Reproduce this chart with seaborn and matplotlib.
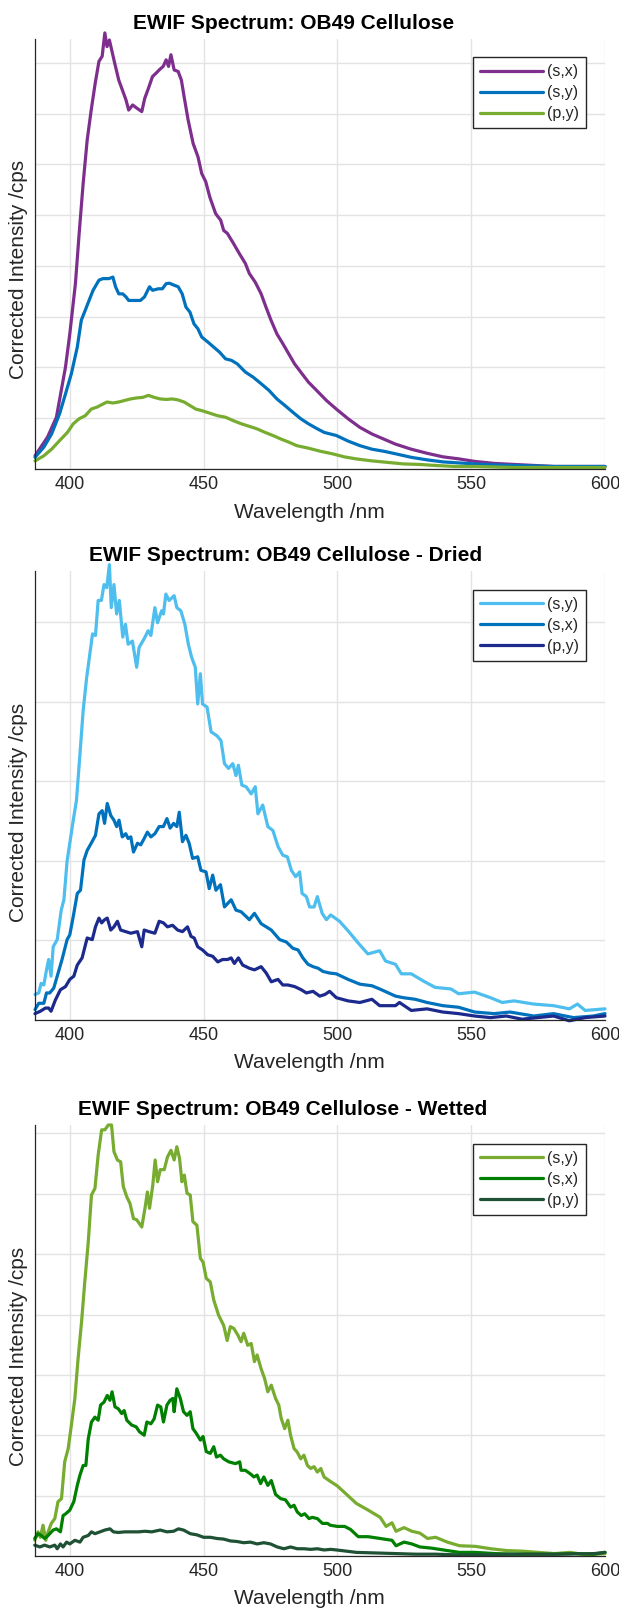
import matplotlib
matplotlib.use('Agg')
import matplotlib.pyplot as plt
import numpy as np
import pandas as pd
import seaborn as sns

# Panel 1: OB49 Cellulose
p1_sx_nm = [387.0, 391.7, 395.0, 398.4, 400.0, 402.1, 403.5, 405.0, 406.5, 408.0, 409.5, 410.9, 412.1, 413.1, 413.9,
            414.8, 416.8, 418.3, 420.1, 421.0, 422.0, 423.5, 425.0, 426.9, 428.0, 429.4, 430.9, 432.3, 433.4, 434.9,
            436.0, 436.9, 437.8, 439.0, 440.5, 441.7, 442.7, 444.2, 446.1, 447.9, 449.3, 450.8, 452.3, 454.5, 456.4,
            457.5, 458.9, 461.2, 463.4, 465.6, 467.1, 469.3, 471.5, 473.3, 475.2, 477.4, 479.6, 481.8, 484.0, 486.3,
            489.2, 492.2, 495.9, 499.6, 504.0, 508.4, 512.9, 517.3, 521.7, 527.6, 533.5, 539.4, 545.3, 551.3, 558.6,
            566.0, 573.4, 580.8, 589.7, 600.0]
p1_sx = [0.26, 0.63, 1.02, 2.01, 2.66, 3.65, 4.64, 5.63, 6.48, 7.07, 7.60, 8.03, 8.13, 8.59, 8.32,
         8.45, 7.99, 7.66, 7.40, 7.27, 7.07, 7.17, 7.11, 7.04, 7.30, 7.50, 7.73, 7.80, 7.86, 7.93,
         8.06, 7.93, 8.16, 7.86, 7.83, 7.66, 7.34, 6.88, 6.41, 6.15, 5.82, 5.66, 5.36, 5.03, 4.90,
         4.70, 4.64, 4.44, 4.24, 4.05, 3.85, 3.68, 3.45, 3.19, 2.93, 2.66, 2.47, 2.27, 2.07, 1.91,
         1.71, 1.55, 1.35, 1.18, 0.99, 0.82, 0.69, 0.59, 0.49, 0.39, 0.31, 0.24, 0.20, 0.15, 0.11,
         0.09, 0.07, 0.05, 0.05, 0.05]
p1_sy_nm = [387.0, 390.3, 393.2, 396.2, 398.4, 400.6, 402.8, 404.3, 405.8, 407.2, 408.7, 410.9, 412.4, 414.6, 416.1,
            417.1, 418.3, 419.8, 421.0, 422.0, 424.2, 426.4, 427.9, 429.8, 430.9, 433.1, 434.6, 436.0, 437.2, 439.0,
            440.5, 442.0, 443.4, 444.9, 446.4, 447.9, 449.3, 451.6, 453.8, 456.0, 458.2, 460.4, 462.6, 465.6, 468.5,
            471.5, 474.4, 477.4, 480.4, 483.3, 486.3, 489.2, 492.2, 495.1, 499.6, 504.0, 508.4, 512.9, 517.3, 521.7,
            527.6, 533.5, 539.4, 545.3, 551.3, 558.6, 566.0, 580.8, 600.0]
p1_sy = [0.23, 0.43, 0.69, 1.09, 1.48, 1.88, 2.40, 2.93, 3.13, 3.32, 3.52, 3.72, 3.75, 3.75, 3.78,
         3.59, 3.45, 3.45, 3.39, 3.32, 3.32, 3.32, 3.39, 3.59, 3.52, 3.55, 3.55, 3.65, 3.66, 3.62,
         3.59, 3.45, 3.19, 3.09, 2.86, 2.76, 2.60, 2.50, 2.40, 2.30, 2.17, 2.14, 2.07, 1.91, 1.81,
         1.68, 1.55, 1.38, 1.25, 1.12, 0.99, 0.89, 0.80, 0.72, 0.66, 0.55, 0.46, 0.39, 0.35, 0.30,
         0.23, 0.18, 0.14, 0.12, 0.10, 0.08, 0.07, 0.05, 0.05]
p1_py_nm = [387.0, 390.3, 393.2, 396.2, 399.1, 401.3, 403.5, 405.8, 408.0, 410.2, 412.4, 413.9, 416.1, 418.3, 420.5,
            422.7, 425.0, 427.2, 429.4, 431.6, 433.8, 436.0, 438.3, 440.5, 442.7, 444.9, 447.1, 449.3, 452.3, 455.2,
            458.2, 461.2, 464.1, 467.1, 470.0, 473.0, 475.9, 478.9, 481.8, 484.8, 489.2, 493.6, 498.1, 502.5, 506.9,
            512.9, 518.8, 524.7, 530.6, 536.5, 543.9, 551.3, 566.0, 580.8, 600.0]
p1_py = [0.16, 0.26, 0.39, 0.56, 0.72, 0.89, 0.99, 1.05, 1.18, 1.22, 1.28, 1.32, 1.30, 1.32, 1.35,
         1.38, 1.40, 1.41, 1.45, 1.41, 1.38, 1.37, 1.38, 1.36, 1.32, 1.25, 1.18, 1.15, 1.10, 1.05,
         1.02, 0.95, 0.89, 0.84, 0.79, 0.72, 0.66, 0.59, 0.53, 0.46, 0.41, 0.35, 0.30, 0.24, 0.20,
         0.16, 0.13, 0.10, 0.09, 0.07, 0.05, 0.05, 0.03, 0.03, 0.03]

# Panel 2: Dried
p2_sy_nm = [387.0, 388.4, 389.3, 390.3, 391.3, 392.1, 393.0, 393.8, 395.3, 396.8, 397.8, 399.0, 400.0, 401.3, 402.5,
            403.8, 405.0, 406.3, 407.5, 408.5, 409.6, 410.6, 411.8, 412.8, 413.8, 414.8, 415.5, 416.5, 417.5, 418.5,
            419.8, 420.8, 421.8, 423.4, 425.0, 425.9, 427.8, 429.3, 430.3, 431.8, 432.8, 434.3, 435.0, 435.9, 437.1,
            439.0, 440.0, 441.5, 443.0, 444.3, 445.5, 446.9, 447.8, 448.8, 449.6, 451.3, 452.8, 455.0, 456.5, 457.8,
            459.3, 460.9, 462.1, 463.0, 464.3, 465.9, 467.8, 469.3, 470.3, 472.1, 474.0, 475.9, 477.8, 479.6, 481.3,
            482.8, 484.4, 485.9, 486.8, 488.4, 489.6, 491.3, 492.5, 494.3, 495.9, 497.5, 500.8, 504.0, 507.7, 511.4,
            515.8, 518.0, 521.7, 523.9, 527.6, 532.1, 536.5, 542.4, 545.3, 551.3, 557.2, 561.6, 566.0, 573.4, 580.8,
            586.7, 589.7, 592.6, 600.0]
p2_sy = [0.32, 0.34, 0.46, 0.44, 0.63, 0.76, 0.55, 0.92, 1.01, 1.38, 1.51, 2.00, 2.22, 2.51, 2.76,
         3.34, 3.89, 4.30, 4.60, 4.85, 4.83, 5.27, 5.27, 5.47, 5.43, 5.72, 5.18, 5.47, 5.10, 5.27,
         4.81, 4.97, 4.72, 4.76, 4.43, 4.68, 4.79, 4.89, 4.83, 5.18, 4.99, 5.14, 5.10, 5.35, 5.27,
         5.33, 5.18, 5.14, 4.97, 4.72, 4.56, 4.43, 3.97, 4.35, 3.97, 3.93, 3.62, 3.57, 3.51, 3.22,
         3.16, 3.22, 3.07, 3.20, 2.95, 2.93, 2.84, 2.93, 2.59, 2.70, 2.43, 2.38, 2.18, 2.07, 2.05,
         1.88, 1.80, 1.86, 1.59, 1.55, 1.42, 1.42, 1.55, 1.34, 1.26, 1.32, 1.24, 1.12, 0.97, 0.83,
         0.87, 0.74, 0.70, 0.58, 0.58, 0.49, 0.41, 0.39, 0.33, 0.35, 0.28, 0.22, 0.24, 0.20, 0.18,
         0.14, 0.20, 0.12, 0.14]
p2_sx_nm = [387.0, 388.4, 390.3, 391.3, 392.5, 394.0, 395.3, 397.1, 399.0, 400.0, 401.3, 402.8, 404.0, 405.3, 406.5,
            408.0, 409.6, 410.9, 412.1, 413.0, 414.0, 415.3, 416.5, 417.5, 418.4, 419.6, 420.9, 421.8, 422.8, 423.8,
            425.3, 426.5, 427.8, 429.0, 430.3, 431.8, 433.4, 435.0, 436.3, 437.5, 438.8, 440.0, 440.9, 442.1, 443.4,
            444.6, 445.9, 447.8, 449.0, 450.9, 452.1, 453.4, 454.6, 456.3, 457.8, 460.3, 462.1, 464.0, 465.9, 467.1,
            469.0, 471.5, 473.4, 475.3, 478.4, 480.9, 483.4, 485.3, 487.1, 489.0, 490.9, 492.8, 494.6, 497.1, 499.6,
            504.0, 508.4, 512.9, 515.8, 521.7, 524.7, 529.1, 533.5, 539.4, 545.3, 551.3, 558.6, 564.5, 573.4, 580.8,
            588.2, 595.6, 600.0]
p2_sx = [0.13, 0.21, 0.21, 0.34, 0.34, 0.40, 0.55, 0.76, 1.01, 1.07, 1.30, 1.59, 1.63, 2.01, 2.13,
         2.22, 2.32, 2.59, 2.63, 2.47, 2.72, 2.57, 2.51, 2.43, 2.51, 2.30, 2.34, 2.28, 2.30, 2.11,
         2.22, 2.20, 2.28, 2.36, 2.30, 2.34, 2.43, 2.43, 2.53, 2.41, 2.47, 2.43, 2.61, 2.24, 2.32,
         2.22, 2.03, 2.05, 1.88, 1.86, 1.65, 1.82, 1.63, 1.70, 1.42, 1.51, 1.38, 1.36, 1.30, 1.26,
         1.34, 1.21, 1.17, 1.13, 1.01, 0.98, 0.90, 0.88, 0.78, 0.70, 0.67, 0.65, 0.61, 0.59, 0.58,
         0.51, 0.45, 0.43, 0.39, 0.30, 0.28, 0.26, 0.22, 0.18, 0.16, 0.10, 0.08, 0.10, 0.05, 0.08,
         0.03, 0.05, 0.08]
p2_py_nm = [387.0, 389.0, 390.9, 392.1, 393.0, 394.6, 396.5, 398.4, 400.0, 401.5, 402.8, 404.6, 406.5, 408.4, 409.6,
            410.9, 411.9, 413.0, 414.0, 415.3, 416.5, 417.8, 419.0, 420.9, 422.8, 425.3, 426.9, 427.8, 429.6, 431.8,
            433.4, 435.0, 436.5, 438.4, 440.3, 442.1, 444.0, 445.3, 446.5, 447.8, 449.6, 451.5, 453.4, 455.3, 457.1,
            459.0, 460.3, 461.5, 463.0, 464.6, 467.1, 469.0, 471.5, 473.4, 475.3, 477.8, 479.6, 481.5, 484.0, 486.5,
            488.4, 490.9, 493.4, 495.3, 497.1, 499.6, 504.0, 508.4, 512.9, 515.8, 521.7, 523.2, 527.6, 533.5, 539.4,
            545.3, 551.3, 557.2, 563.1, 569.0, 574.9, 580.8, 586.7, 592.6, 600.0]
p2_py = [0.08, 0.11, 0.15, 0.15, 0.11, 0.25, 0.38, 0.42, 0.51, 0.55, 0.69, 0.78, 1.03, 1.01, 1.17,
         1.28, 1.22, 1.26, 1.28, 1.13, 1.17, 1.24, 1.13, 1.11, 1.09, 1.11, 0.92, 1.13, 1.11, 1.09,
         1.24, 1.22, 1.17, 1.19, 1.13, 1.11, 1.17, 1.05, 1.03, 0.92, 0.88, 0.82, 0.80, 0.73, 0.76,
         0.76, 0.78, 0.71, 0.78, 0.69, 0.65, 0.63, 0.67, 0.59, 0.48, 0.51, 0.44, 0.44, 0.42, 0.38,
         0.34, 0.36, 0.30, 0.32, 0.36, 0.28, 0.24, 0.22, 0.26, 0.18, 0.18, 0.22, 0.12, 0.14, 0.10,
         0.08, 0.05, 0.03, 0.05, 0.01, 0.03, 0.05, -0.01, 0.03, 0.05]

# Panel 3: Wetted
p3_sy_nm = [386.9, 388.1, 389.0, 390.0, 391.0, 391.9, 393.1, 394.4, 395.6, 396.9, 398.1, 399.4, 400.6, 401.9, 403.1,
            404.4, 405.6, 406.9, 408.1, 409.4, 410.6, 411.9, 413.1, 414.4, 415.6, 416.5, 417.8, 419.0, 420.0, 421.3,
            422.5, 423.8, 425.0, 426.9, 428.1, 429.0, 429.8, 431.0, 431.9, 432.8, 433.8, 435.3, 436.5, 437.8, 439.0,
            440.0, 441.0, 441.9, 442.8, 443.8, 445.0, 446.0, 447.5, 448.8, 449.8, 451.0, 452.5, 453.8, 455.6, 457.5,
            458.8, 460.0, 461.3, 462.8, 464.0, 465.0, 466.5, 467.8, 469.0, 470.0, 471.5, 472.8, 474.0, 475.3, 476.9,
            478.1, 479.0, 480.3, 481.5, 482.5, 483.8, 485.0, 486.3, 487.5, 488.8, 490.0, 491.3, 492.5, 493.8, 495.0,
            496.9, 500.0, 502.7, 507.1, 511.5, 516.0, 518.2, 520.4, 521.9, 524.9, 527.8, 530.8, 533.7, 536.7, 541.1,
            545.6, 551.5, 557.4, 563.3, 569.2, 575.1, 581.1, 587.0, 592.9, 600.0]
p3_sy = [0.26, 0.40, 0.31, 0.51, 0.26, 0.40, 0.54, 0.62, 0.90, 0.95, 1.56, 1.78, 2.17, 2.61, 3.27,
         3.88, 4.54, 5.20, 5.98, 6.09, 6.64, 7.06, 7.06, 7.14, 7.14, 6.70, 6.56, 6.53, 6.12, 5.95,
         5.84, 5.59, 5.57, 5.45, 5.76, 6.03, 5.76, 6.14, 6.56, 6.20, 6.40, 6.40, 6.61, 6.72, 6.56,
         6.78, 6.59, 6.20, 6.31, 6.01, 5.98, 5.54, 5.48, 4.93, 4.87, 4.60, 4.54, 4.24, 3.99, 3.82,
         3.57, 3.80, 3.77, 3.66, 3.55, 3.69, 3.49, 3.52, 3.22, 3.33, 3.10, 2.94, 2.72, 2.83, 2.61,
         2.50, 2.28, 2.11, 2.25, 2.00, 1.78, 1.72, 1.61, 1.67, 1.50, 1.45, 1.48, 1.39, 1.45, 1.31,
         1.25, 1.16, 1.05, 0.87, 0.76, 0.64, 0.49, 0.55, 0.41, 0.47, 0.41, 0.38, 0.29, 0.31, 0.23,
         0.17, 0.16, 0.12, 0.09, 0.08, 0.06, 0.04, 0.06, 0.02, 0.04]
p3_sx_nm = [386.9, 388.1, 389.4, 390.6, 391.9, 393.8, 395.0, 396.5, 397.5, 398.5, 400.0, 401.5, 402.8, 403.8, 405.0,
            406.0, 406.9, 408.1, 409.4, 410.6, 411.5, 412.8, 414.0, 415.0, 415.8, 416.9, 418.1, 419.4, 420.3, 421.3,
            423.1, 424.8, 426.0, 427.8, 428.8, 430.3, 431.5, 432.8, 434.0, 435.0, 436.3, 437.5, 438.5, 439.0, 440.0,
            441.3, 442.5, 443.8, 445.0, 446.0, 447.3, 448.8, 449.8, 451.0, 452.5, 453.8, 454.8, 456.3, 457.5, 459.4,
            461.9, 463.5, 464.0, 465.6, 467.5, 468.8, 470.0, 471.3, 472.5, 474.0, 475.3, 476.9, 478.8, 480.6, 482.5,
            483.8, 485.0, 486.5, 487.8, 489.4, 490.6, 492.5, 494.4, 496.3, 497.3, 500.0, 502.7, 504.9, 507.8, 511.5,
            516.0, 520.4, 521.9, 524.9, 527.8, 530.8, 535.2, 541.1, 545.6, 551.5, 558.9, 566.3, 573.7, 581.1, 588.5,
            595.9, 600.0]
p3_sx = [0.29, 0.37, 0.34, 0.29, 0.34, 0.43, 0.45, 0.40, 0.67, 0.70, 0.76, 0.90, 1.17, 1.34, 1.50,
         1.50, 1.94, 2.22, 2.30, 2.25, 2.50, 2.55, 2.66, 2.58, 2.72, 2.47, 2.44, 2.36, 2.41, 2.25,
         2.17, 2.14, 2.06, 2.00, 2.22, 2.19, 2.27, 2.50, 2.47, 2.22, 2.50, 2.58, 2.61, 2.39, 2.77,
         2.61, 2.39, 2.33, 2.39, 2.11, 2.03, 1.92, 1.98, 1.73, 1.70, 1.81, 1.64, 1.67, 1.61, 1.56,
         1.53, 1.56, 1.42, 1.42, 1.36, 1.31, 1.34, 1.20, 1.31, 1.17, 1.25, 1.02, 0.95, 0.93, 0.81,
         0.84, 0.73, 0.67, 0.70, 0.62, 0.64, 0.62, 0.54, 0.54, 0.51, 0.49, 0.49, 0.44, 0.32, 0.32,
         0.29, 0.26, 0.17, 0.23, 0.20, 0.15, 0.13, 0.09, 0.06, 0.06, 0.04, 0.03, 0.03, 0.03, 0.04,
         0.03, 0.06]
p3_py_nm = [386.9, 388.8, 390.6, 392.5, 394.4, 395.3, 396.5, 397.5, 398.8, 400.0, 401.9, 403.8, 405.0, 406.9, 408.1,
            409.4, 411.3, 413.1, 415.0, 416.3, 418.1, 420.6, 423.1, 425.6, 428.1, 430.6, 433.8, 436.3, 438.8, 440.6,
            442.5, 445.0, 447.5, 450.0, 452.5, 455.0, 457.5, 460.0, 462.5, 465.0, 467.5, 470.0, 472.5, 475.0, 477.5,
            480.0, 482.5, 485.0, 487.5, 490.0, 492.5, 495.0, 497.5, 499.7, 507.1, 514.5, 521.9, 529.3, 536.7, 544.1,
            551.5, 566.3, 581.1, 595.9, 600.0]
p3_py = [0.18, 0.15, 0.18, 0.15, 0.18, 0.12, 0.20, 0.15, 0.23, 0.20, 0.26, 0.23, 0.31, 0.34, 0.40,
         0.37, 0.40, 0.43, 0.45, 0.40, 0.39, 0.40, 0.40, 0.40, 0.41, 0.40, 0.43, 0.40, 0.41, 0.45,
         0.43, 0.37, 0.35, 0.31, 0.31, 0.29, 0.28, 0.25, 0.24, 0.22, 0.23, 0.20, 0.22, 0.20, 0.15,
         0.12, 0.15, 0.12, 0.12, 0.11, 0.12, 0.10, 0.11, 0.10, 0.06, 0.05, 0.04, 0.03, 0.03, 0.02,
         0.02, 0.03, 0.03, 0.04, 0.06]

titles = ['EWIF Spectrum: OB49 Cellulose',
          'EWIF Spectrum: OB49 Cellulose - Dried',
          'EWIF Spectrum: OB49 Cellulose - Wetted']
panel_labels = [['(s,x)', '(s,y)', '(p,y)'],
                ['(s,y)', '(s,x)', '(p,y)'],
                ['(s,y)', '(s,x)', '(p,y)']]
panel_colors = [['#7E2F8E', '#0072BD', '#77AC30'],
                ['#4DBEEE', '#0072BD', '#1B2A8C'],
                ['#77AC30', '#008000', '#1F5135']]
panel_series = [[(p1_sx_nm, p1_sx), (p1_sy_nm, p1_sy), (p1_py_nm, p1_py)],
                [(p2_sy_nm, p2_sy), (p2_sx_nm, p2_sx), (p2_py_nm, p2_py)],
                [(p3_sy_nm, p3_sy), (p3_sx_nm, p3_sx), (p3_py_nm, p3_py)]]
y_tops = [8.47, 5.64, 7.14]

sns.set_style('white')
plt.rcParams['font.family'] = ['Liberation Sans', 'DejaVu Sans']

W, H = 619, 1609
# axes boxes in pixels: left, top, right, bottom
boxes = [(35, 39, 605, 469), (35, 571, 605, 1020), (35, 1125, 605, 1556)]
title_x = [0.454, 0.439, 0.435]
legend_top = [0.958, 0.958, 0.957]
dark = '#262626'

fig = plt.figure(figsize=(W / 100, H / 100), dpi=100)

for i in range(3):
    l, t, r, b = boxes[i]
    ax = fig.add_axes([l / W, 1 - b / H, (r - l) / W, (b - t) / H])

    rows = []
    for lab, (nm, vals) in zip(panel_labels[i], panel_series[i]):
        rows.append(pd.DataFrame({'wavelength': nm, 'intensity': vals, 'series': lab}))
    df = pd.concat(rows, ignore_index=True)

    sns.lineplot(data=df, x='wavelength', y='intensity', hue='series',
                 hue_order=panel_labels[i], palette=panel_colors[i],
                 estimator=None, sort=False, lw=2.3, clip_on=False,
                 legend=False, ax=ax)

    ax.set_xlim(387, 600)
    ax.set_ylim(0, y_tops[i])
    ax.set_xticks([400, 450, 500, 550, 600])
    ax.set_yticks(np.arange(0, int(y_tops[i]) + 1))
    ax.tick_params(direction='in', length=4.5, width=0.8, color=dark,
                   labelsize=13, labelcolor=dark, pad=5, labelleft=False)
    ax.grid(True, color='#e3e3e3', lw=1.0)
    ax.set_axisbelow(True)
    for side in ['top', 'right']:
        ax.spines[side].set_visible(False)
    for side in ['left', 'bottom']:
        ax.spines[side].set_color(dark)
        ax.spines[side].set_linewidth(0.9)

    ax.set_xlabel('Wavelength /nm', fontsize=15, color=dark, va='center')
    ax.xaxis.set_label_coords(0.4816, -43 / (b - t))
    ax.set_ylabel('Corrected Intensity /cps', fontsize=15, color=dark, va='center')
    ax.yaxis.set_label_coords(-0.0298, 0.463)

    ax.annotate(titles[i], xy=(title_x[i], 1), xycoords='axes fraction',
                xytext=(0, 11.2), textcoords='offset points',
                ha='center', va='center', fontsize=15, fontweight='bold', color='black')

    handles = ax.get_lines()[:3]
    leg = ax.legend(handles, panel_labels[i], loc='upper right',
                    bbox_to_anchor=(0.967, legend_top[i]), borderaxespad=0,
                    frameon=True, fancybox=False, framealpha=1, edgecolor=dark,
                    fontsize=11.5, handlelength=3.95, handletextpad=0.25,
                    labelspacing=0.375, borderpad=0.45)
    leg.get_frame().set_linewidth(1.0)
    for txt in leg.get_texts():
        txt.set_color(dark)

fig.savefig('out.png', dpi=100)
